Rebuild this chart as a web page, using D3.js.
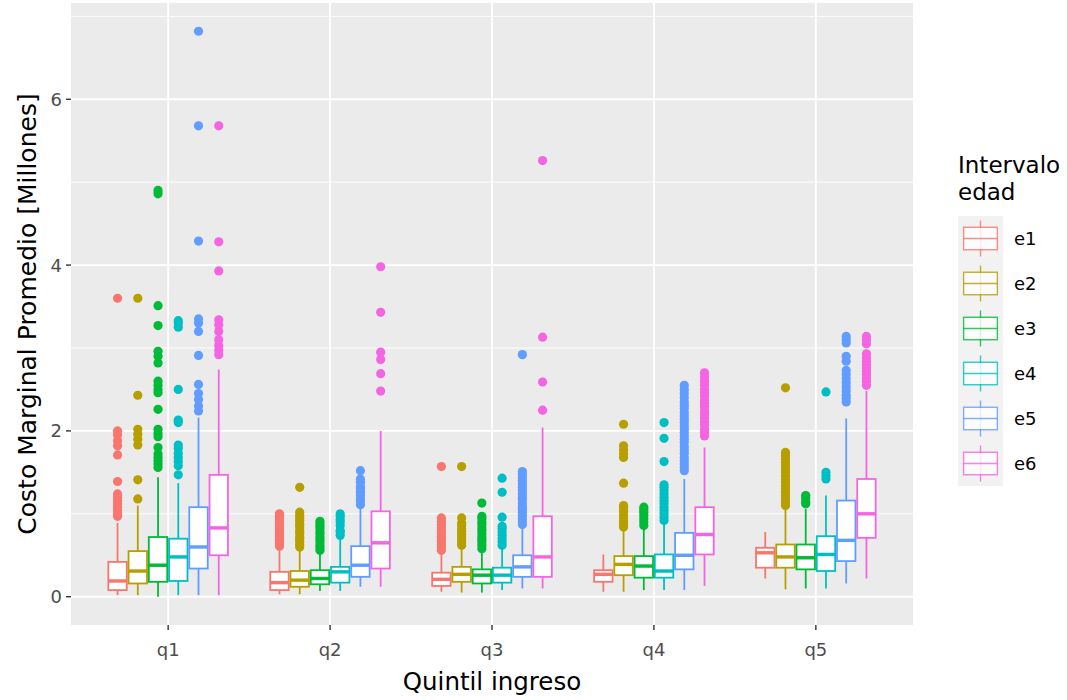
<!DOCTYPE html>
<html><head><meta charset="utf-8">
<script src="https://cdn.jsdelivr.net/npm/d3@7"></script>
<style>body{margin:0;background:#fff}svg{display:block}</style>
</head><body>
<svg id="chart" width="1067" height="700"></svg>
<script>
// ---- data ----
const quintiles = ["q1","q2","q3","q4","q5"];
const groups = ["e1","e2","e3","e4","e5","e6"];
const colors = ["#F8766D","#B79F00","#00BA38","#00BFC4","#619CFF","#F564E3"];
const yTicks = [0,2,4,6];
const yMinor = [1,3,5,7];
// per quintile, per group: [lowerWhisker, lowerHinge, median, upperHinge, upperWhisker]
const statsQ1 = [[0.02,0.08,0.19,0.42,0.89],[0.02,0.16,0.31,0.55,1.10],[0.00,0.18,0.38,0.72,1.44],[0.02,0.19,0.48,0.70,1.37],[0.02,0.34,0.60,1.08,2.16],[0.02,0.50,0.83,1.47,2.74]];
const statsQ2 = [[0.03,0.08,0.17,0.30,0.56],[0.03,0.12,0.20,0.31,0.57],[0.07,0.15,0.22,0.32,0.53],[0.07,0.17,0.30,0.36,0.69],[0.12,0.24,0.38,0.61,1.07],[0.12,0.34,0.65,1.03,2.00]];
const statsQ3 = [[0.06,0.13,0.21,0.29,0.52],[0.05,0.18,0.27,0.36,0.59],[0.05,0.16,0.26,0.33,0.56],[0.08,0.17,0.26,0.35,0.59],[0.10,0.24,0.36,0.50,0.83],[0.10,0.24,0.48,0.97,2.04]];
const statsQ4 = [[0.06,0.18,0.27,0.32,0.51],[0.06,0.26,0.39,0.49,0.82],[0.08,0.23,0.37,0.49,0.84],[0.08,0.23,0.31,0.51,0.90],[0.08,0.33,0.50,0.77,1.42],[0.13,0.51,0.75,1.08,1.80]];
const statsQ5 = [[0.22,0.35,0.53,0.59,0.78],[0.09,0.35,0.48,0.63,1.06],[0.10,0.33,0.47,0.63,1.06],[0.10,0.31,0.51,0.73,1.22],[0.16,0.43,0.68,1.16,2.15],[0.22,0.71,1.00,1.42,2.48]];
// outliers per quintile, per group
const outQ1 = [
  [0.97,1.00,1.04,1.08,1.12,1.16,1.20,1.24,1.39,1.71,1.82,1.88,1.95,2.00,3.60],
  [1.18,1.41,1.83,1.90,1.96,2.02,2.43,3.60],
  [1.56,1.60,1.64,1.68,1.72,1.80,1.93,1.97,2.02,2.26,2.46,2.50,2.55,2.60,2.82,2.90,2.96,3.27,3.51,4.86,4.90],
  [1.47,1.58,1.63,1.68,1.73,1.79,1.83,2.10,2.13,2.50,3.25,3.30,3.33],
  [2.24,2.30,2.38,2.45,2.56,2.91,3.20,3.30,3.35,4.29,5.68,6.82],
  [2.92,2.97,3.03,3.10,3.20,3.28,3.34,3.93,4.28,5.68]];
const outQ2 = [
  [0.61,0.64,0.66,0.69,0.73,0.75,0.78,0.82,0.85,0.87,0.90,0.94,0.97,1.00],
  [0.60,0.63,0.67,0.70,0.72,0.76,0.79,0.83,0.86,0.88,0.92,0.95,0.98,1.02,1.32],
  [0.56,0.59,0.62,0.66,0.69,0.72,0.76,0.78,0.82,0.85,0.88,0.91],
  [0.74,0.78,0.80,0.86,0.90,0.93,0.97,1.00],
  [1.11,1.15,1.18,1.22,1.26,1.30,1.33,1.38,1.42,1.52],
  [2.48,2.69,2.86,2.95,3.43,3.98]];
const outQ3 = [
  [0.56,0.60,0.63,0.67,0.70,0.73,0.77,0.80,0.84,0.87,0.91,0.95,1.57],
  [0.62,0.65,0.69,0.72,0.75,0.79,0.82,0.86,0.89,0.95,1.57],
  [0.58,0.62,0.66,0.69,0.72,0.76,0.80,0.83,0.87,0.90,0.94,0.97,1.13],
  [0.62,0.66,0.70,0.74,0.78,0.82,0.85,0.96,1.26,1.43],
  [0.87,0.90,0.94,0.98,1.02,1.05,1.08,1.12,1.17,1.20,1.24,1.28,1.32,1.36,1.40,1.44,1.48,1.51,2.92],
  [2.25,2.59,3.13,5.26]];
const outQ4 = [
  [],
  [0.84,0.88,0.91,0.95,0.99,1.03,1.07,1.10,1.37,1.68,1.72,1.77,1.82,2.08],
  [0.86,0.90,0.94,0.98,1.02,1.05,1.08],
  [0.92,0.96,1.00,1.04,1.08,1.12,1.16,1.20,1.24,1.28,1.32,1.35,1.63,1.91,2.10],
  [1.52,1.56,1.60,1.64,1.68,1.73,1.77,1.81,1.86,1.90,1.94,1.98,2.02,2.06,2.10,2.14,2.18,2.22,2.27,2.31,2.35,2.40,2.45,2.50,2.55],
  [1.94,1.98,2.02,2.07,2.11,2.16,2.20,2.24,2.29,2.33,2.37,2.42,2.46,2.50,2.55,2.60,2.65,2.70]];
const outQ5 = [
  [],
  [1.10,1.14,1.18,1.22,1.26,1.30,1.34,1.38,1.42,1.46,1.50,1.54,1.58,1.62,1.66,1.70,1.74,2.52],
  [1.12,1.15,1.19,1.22],
  [1.42,1.46,1.50,2.47],
  [2.35,2.39,2.43,2.48,2.53,2.58,2.63,2.68,2.73,2.84,2.90,3.06,3.10,3.14],
  [2.55,2.60,2.64,2.68,2.72,2.76,2.80,2.84,2.88,2.93,3.05,3.10,3.14]];

const allStats = [statsQ1,statsQ2,statsQ3,statsQ4,statsQ5];
const allOut = [outQ1,outQ2,outQ3,outQ4,outQ5];

// ---- layout ----
const P = {left:71, right:913, top:3, bottom:625};
const FONT = "DejaVu Sans, Liberation Sans, Arial, sans-serif";
const svg = d3.select("#chart");

let vmin = Infinity, vmax = -Infinity;
allStats.forEach((q,i)=>q.forEach((s,j)=>{
  vmin=Math.min(vmin,s[0]); vmax=Math.max(vmax,s[4]);
  allOut[i][j].forEach(v=>{vmin=Math.min(vmin,v);vmax=Math.max(vmax,v);});
}));
const pad = (vmax-vmin)*0.05;
const y = d3.scaleLinear().domain([vmin-pad, vmax+pad]).range([P.bottom, P.top]);
const x = d3.scalePoint().domain(quintiles).range([P.left, P.right]).padding(0.6);
const step = x.step();
const dodgeW = 0.75*step;
const bw = dodgeW/groups.length;
const xg = (qi,gi)=> x(quintiles[qi]) - dodgeW/2 + bw*(gi+0.5);

// panel
svg.append("rect").attr("x",P.left).attr("y",P.top).attr("width",P.right-P.left).attr("height",P.bottom-P.top).attr("fill","#EBEBEB");
const grid = svg.append("g");
yMinor.forEach(v=>{ if(y(v)>=P.top) grid.append("line").attr("x1",P.left).attr("x2",P.right).attr("y1",y(v)).attr("y2",y(v)).attr("stroke","#fff").attr("stroke-width",0.9);});
yTicks.forEach(v=>grid.append("line").attr("x1",P.left).attr("x2",P.right).attr("y1",y(v)).attr("y2",y(v)).attr("stroke","#fff").attr("stroke-width",1.8));
quintiles.forEach(q=>grid.append("line").attr("x1",x(q)).attr("x2",x(q)).attr("y1",P.top).attr("y2",P.bottom).attr("stroke","#fff").attr("stroke-width",1.8));

// boxes
const lw = 1.8;
allStats.forEach((q,qi)=>q.forEach((s,gi)=>{
  const cx = xg(qi,gi), c = colors[gi];
  const g = svg.append("g");
  g.append("line").attr("x1",cx).attr("x2",cx).attr("y1",y(s[3])).attr("y2",y(s[4])).attr("stroke",c).attr("stroke-width",lw);
  g.append("line").attr("x1",cx).attr("x2",cx).attr("y1",y(s[1])).attr("y2",y(s[0])).attr("stroke",c).attr("stroke-width",lw);
  g.append("rect").attr("x",cx-bw/2+lw/2).attr("width",bw-lw).attr("y",y(s[3])).attr("height",y(s[1])-y(s[3]))
    .attr("fill","#fff").attr("stroke",c).attr("stroke-width",lw);
  g.append("line").attr("x1",cx-bw/2+lw/2).attr("x2",cx+bw/2-lw/2).attr("y1",y(s[2])).attr("y2",y(s[2])).attr("stroke",c).attr("stroke-width",lw*1.9);
  allOut[qi][gi].forEach(v=>g.append("circle").attr("cx",cx).attr("cy",y(v)).attr("r",4.6).attr("fill",c));
}));

// axes
const yAxis = svg.append("g");
yTicks.forEach(v=>{
  yAxis.append("line").attr("x1",P.left-5).attr("x2",P.left).attr("y1",y(v)).attr("y2",y(v)).attr("stroke","#333").attr("stroke-width",1.4);
  yAxis.append("text").attr("x",P.left-9).attr("y",y(v)).attr("dy","0.36em").attr("text-anchor","end")
    .attr("font-family",FONT).attr("font-size",18).attr("fill","#4D4D4D").text(v);
});
const xAxis = svg.append("g");
quintiles.forEach(q=>{
  xAxis.append("line").attr("x1",x(q)).attr("x2",x(q)).attr("y1",P.bottom).attr("y2",P.bottom+5).attr("stroke","#333").attr("stroke-width",1.4);
  xAxis.append("text").attr("x",x(q)).attr("y",656).attr("text-anchor","middle")
    .attr("font-family",FONT).attr("font-size",18).attr("fill","#4D4D4D").text(q);
});
svg.append("text").attr("x",(P.left+P.right)/2).attr("y",690).attr("text-anchor","middle")
  .attr("font-family",FONT).attr("font-size",24.5).attr("fill","#000").text("Quintil ingreso");
svg.append("text").attr("transform",`translate(36,${(P.top+P.bottom)/2}) rotate(-90)`).attr("text-anchor","middle")
  .attr("font-family",FONT).attr("font-size",25).attr("fill","#000").text("Costo Marginal Promedio [Millones]");

// legend
const L = {x:958, y:216, kw:45, kh:45};
const leg = svg.append("g");
leg.append("text").attr("x",L.x).attr("y",173).attr("font-family",FONT).attr("font-size",23).attr("fill","#000").text("Intervalo");
leg.append("text").attr("x",L.x).attr("y",200).attr("font-family",FONT).attr("font-size",23).attr("fill","#000").text("edad");
groups.forEach((gname,i)=>{
  const ky = L.y + i*L.kh, c = colors[i], cx = L.x + L.kw/2;
  leg.append("rect").attr("x",L.x).attr("y",ky).attr("width",L.kw).attr("height",L.kh).attr("fill","#F2F2F2");
  leg.append("line").attr("x1",cx).attr("x2",cx).attr("y1",ky+L.kh*0.1).attr("y2",ky+L.kh*0.9).attr("stroke",c).attr("stroke-width",1.4).attr("opacity",0.8);
  leg.append("rect").attr("x",L.x+L.kw*0.125).attr("y",ky+L.kh*0.25).attr("width",L.kw*0.75).attr("height",L.kh*0.5)
    .attr("fill","#fff").attr("stroke",c).attr("stroke-width",1.4).attr("opacity",0.8);
  leg.append("line").attr("x1",L.x+L.kw*0.125).attr("x2",L.x+L.kw*0.875).attr("y1",ky+L.kh/2).attr("y2",ky+L.kh/2).attr("stroke",c).attr("stroke-width",1.6).attr("opacity",0.8);
  leg.append("text").attr("x",L.x+L.kw+11).attr("y",ky+L.kh/2).attr("dy","0.36em").attr("font-family",FONT).attr("font-size",18).attr("fill","#000").text(gname);
});
</script>
</body></html>
